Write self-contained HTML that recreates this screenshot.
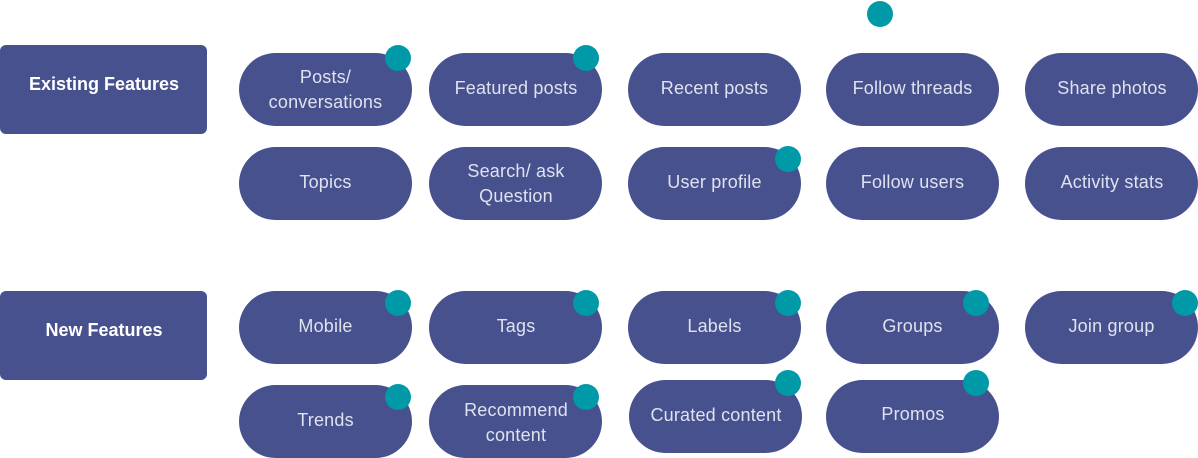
<!DOCTYPE html>
<html><head><meta charset="utf-8"><style>
html,body{margin:0;padding:0;background:#fff;width:1198px;height:458px;overflow:hidden}
svg{display:block}
text{font-family:"Liberation Sans",sans-serif;fill:#dfe2ef;font-size:18px;text-anchor:middle;letter-spacing:.2px}
.b{font-weight:700;fill:#fff;font-size:18px;letter-spacing:0}
rect{fill:#47518e}
circle{fill:#0099a8}
</style></head><body>
<svg width="1198" height="458" viewBox="0 0 1198 458" xmlns="http://www.w3.org/2000/svg">
<rect x="0" y="45" width="207" height="89" rx="6"/>
<rect x="0" y="291" width="207" height="89" rx="6"/>
<g>
<rect x="239" y="53" width="173" height="73" rx="36.5"/>
<rect x="429" y="53" width="173" height="73" rx="36.5"/>
<rect x="628" y="53" width="173" height="73" rx="36.5"/>
<rect x="826" y="53" width="173" height="73" rx="36.5"/>
<rect x="1025" y="53" width="173" height="73" rx="36.5"/>
<rect x="239" y="147" width="173" height="73" rx="36.5"/>
<rect x="429" y="147" width="173" height="73" rx="36.5"/>
<rect x="628" y="147" width="173" height="73" rx="36.5"/>
<rect x="826" y="147" width="173" height="73" rx="36.5"/>
<rect x="1025" y="147" width="173" height="73" rx="36.5"/>
<rect x="239" y="291" width="173" height="73" rx="36.5"/>
<rect x="429" y="291" width="173" height="73" rx="36.5"/>
<rect x="628" y="291" width="173" height="73" rx="36.5"/>
<rect x="826" y="291" width="173" height="73" rx="36.5"/>
<rect x="1025" y="291" width="173" height="73" rx="36.5"/>
<rect x="239" y="385" width="173" height="73" rx="36.5"/>
<rect x="429" y="385" width="173" height="73" rx="36.5"/>
<rect x="629" y="380" width="173" height="73" rx="36.5"/>
<rect x="826" y="380" width="173" height="73" rx="36.5"/>
</g>
<g>
<circle cx="398" cy="58" r="13"/>
<circle cx="586" cy="58" r="13"/>
<circle cx="880" cy="14" r="13"/>
<circle cx="788" cy="159" r="13"/>
<circle cx="398" cy="303" r="13"/>
<circle cx="586" cy="303" r="13"/>
<circle cx="788" cy="303" r="13"/>
<circle cx="976" cy="303" r="13"/>
<circle cx="1185" cy="303" r="13"/>
<circle cx="398" cy="397" r="13"/>
<circle cx="586" cy="397" r="13"/>
<circle cx="788" cy="383" r="13"/>
<circle cx="976" cy="383" r="13"/>
</g>
<text class="b" x="104" y="90">Existing Features</text>
<text class="b" x="104" y="336">New Features</text>
<text x="325.500" y="83">Posts/</text>
<text x="325.500" y="108">conversations</text>
<text x="516" y="94">Featured posts</text>
<text x="714.500" y="94">Recent posts</text>
<text x="912.500" y="94">Follow threads</text>
<text x="1112" y="94">Share photos</text>
<text x="325.500" y="188">Topics</text>
<text x="516" y="177">Search/ ask</text>
<text x="516" y="202">Question</text>
<text x="714.500" y="188">User profile</text>
<text x="912.500" y="188">Follow users</text>
<text x="1112" y="188">Activity stats</text>
<text x="325.500" y="332">Mobile</text>
<text x="516" y="332">Tags</text>
<text x="714.500" y="332">Labels</text>
<text x="912.500" y="332">Groups</text>
<text x="1111.500" y="332">Join group</text>
<text x="325.500" y="426">Trends</text>
<text x="516" y="416">Recommend</text>
<text x="516" y="441">content</text>
<text x="716" y="421">Curated content</text>
<text x="913" y="420">Promos</text>
</svg>
</body></html>
